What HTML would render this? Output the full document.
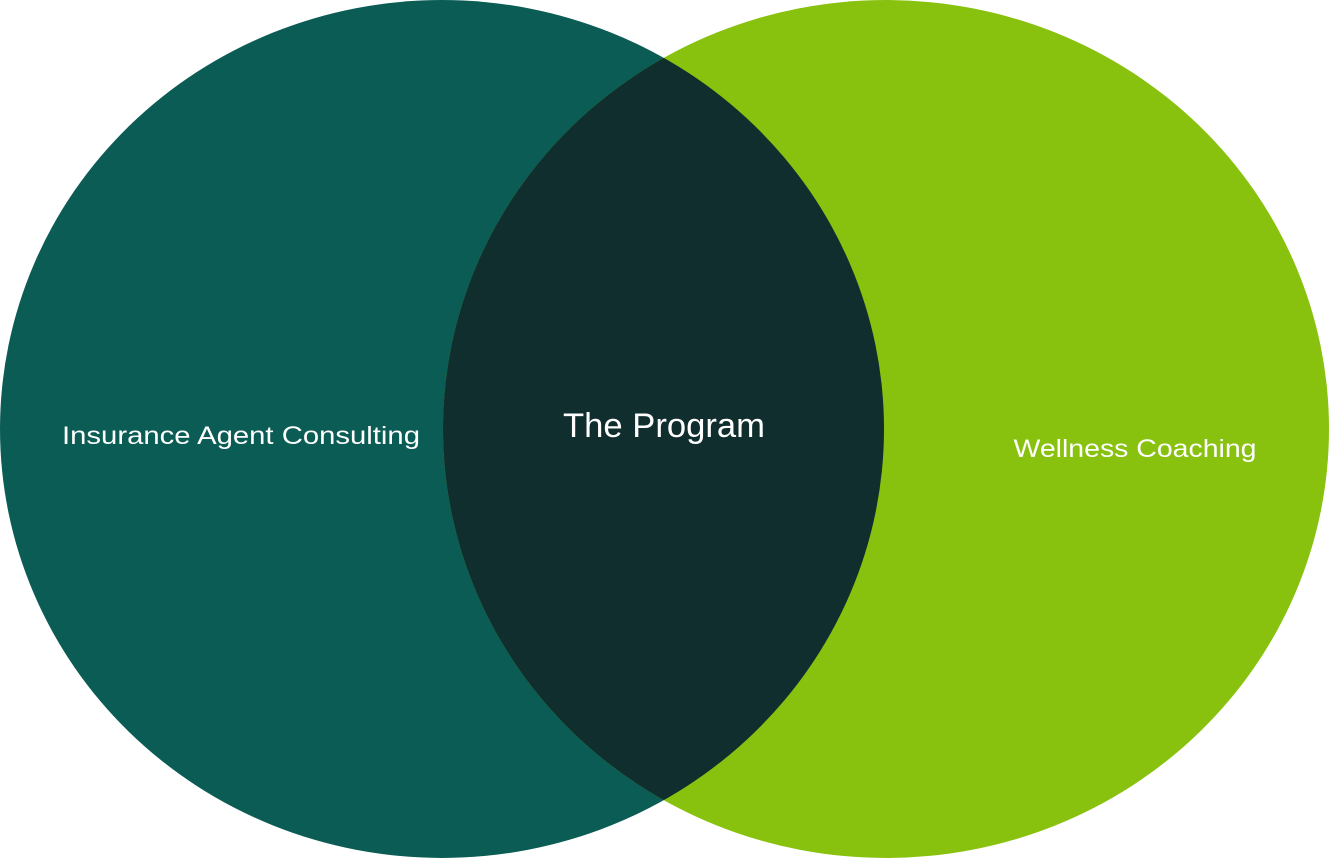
<!DOCTYPE html>
<html><head><meta charset="utf-8"><style>
html,body{margin:0;padding:0;background:#fff;width:1329px;height:859px;overflow:hidden}
svg{display:block}
text{font-family:"Liberation Sans",sans-serif;fill:#fff}
</style></head><body>
<svg width="1329" height="859" viewBox="0 0 1329 859">
<defs><clipPath id="c"><ellipse cx="442" cy="429" rx="442" ry="429"/></clipPath></defs>
<ellipse cx="442" cy="429" rx="442" ry="429" fill="#0a5c55"/>
<ellipse cx="886" cy="429" rx="443" ry="429" fill="#88c20e"/>
<ellipse cx="886" cy="429" rx="443" ry="429" fill="#0f2e2d" clip-path="url(#c)"/>
<text x="241" y="444" font-size="25" text-anchor="middle" textLength="358" lengthAdjust="spacingAndGlyphs">Insurance Agent Consulting</text>
<text x="664" y="437" font-size="34" text-anchor="middle" textLength="202" lengthAdjust="spacingAndGlyphs">The Program</text>
<text x="1135" y="457" font-size="25" text-anchor="middle" textLength="243" lengthAdjust="spacingAndGlyphs">Wellness Coaching</text>
</svg>
</body></html>
